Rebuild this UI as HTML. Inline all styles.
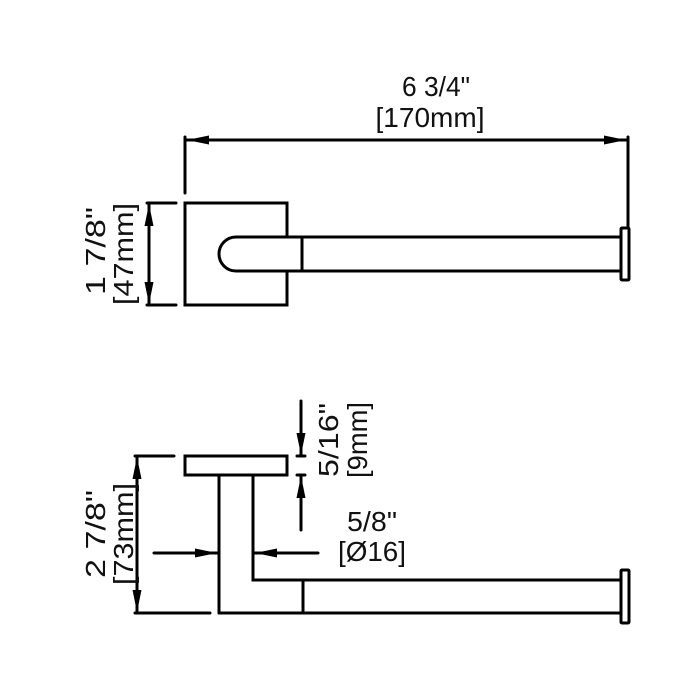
<!DOCTYPE html>
<html><head><style>body{margin:0;background:#fff}svg{display:block}</style></head><body>
<svg width="700" height="700" viewBox="0 0 700 700" xmlns="http://www.w3.org/2000/svg" font-family="Liberation Sans, Arial, sans-serif" font-size="28" fill="#111">
<g stroke="#000" stroke-width="3" fill="none" stroke-linecap="round">
<!-- top view -->
<line x1="185" y1="137" x2="185" y2="193"/>
<line x1="628" y1="137" x2="628" y2="228"/>
<line x1="187" y1="140" x2="626" y2="140"/>
<line x1="147" y1="203" x2="176" y2="203"/>
<line x1="147" y1="305" x2="176" y2="305"/>
<line x1="149" y1="205" x2="149" y2="303"/>
<path d="M287,237 V203 H185 V305 H287 V271"/>
<path d="M621,237 H236 A17,17 0 0 0 236,271 H621"/>
<line x1="302" y1="237" x2="302" y2="271"/>
<rect x="621" y="228" width="8" height="52" rx="1"/>
<!-- bottom view -->
<rect x="185" y="456" width="102" height="19"/>
<line x1="219" y1="475" x2="219" y2="613"/>
<path d="M253,475 V580 H621"/>
<line x1="219" y1="613" x2="621" y2="613"/>
<line x1="303" y1="580" x2="303" y2="613"/>
<rect x="621" y="570" width="8" height="53" rx="1"/>
<line x1="135" y1="456" x2="174" y2="456"/>
<line x1="135" y1="613" x2="210" y2="613"/>
<line x1="137" y1="458" x2="137" y2="611"/>
<line x1="301" y1="401" x2="301" y2="455"/>
<line x1="301" y1="530" x2="301" y2="476"/>
<line x1="297" y1="456" x2="305" y2="456"/>
<line x1="297" y1="475" x2="305" y2="475"/>
<line x1="154" y1="553" x2="217" y2="553"/>
<line x1="318" y1="553" x2="255" y2="553"/>
</g>
<g fill="#000" stroke="none">
<polygon points="187,140 209,135.5 209,144.5"/>
<polygon points="626,140 604,135.5 604,144.5"/>
<polygon points="149,204 144.5,226 153.5,226"/>
<polygon points="149,304 144.5,282 153.5,282"/>
<polygon points="137,457 132.5,479 141.5,479"/>
<polygon points="137,612 132.5,590 141.5,590"/>
<polygon points="301,455 296.5,433 305.5,433"/>
<polygon points="301,476 296.5,498 305.5,498"/>
<polygon points="217,553 195,548.5 195,557.5"/>
<polygon points="255,553 277,548.5 277,557.5"/>
</g>
<g stroke="none" fill="#111">
<text x="436" y="96" text-anchor="middle" textLength="68" lengthAdjust="spacingAndGlyphs">6 3/4"</text>
<text x="430" y="127" text-anchor="middle" textLength="109" lengthAdjust="spacingAndGlyphs">[170mm]</text>
<text transform="translate(105,251) rotate(-90)" text-anchor="middle" textLength="88" lengthAdjust="spacingAndGlyphs">1 7/8"</text>
<text transform="translate(133,254) rotate(-90)" text-anchor="middle" textLength="102" lengthAdjust="spacingAndGlyphs">[47mm]</text>
<text transform="translate(105,534) rotate(-90)" text-anchor="middle" textLength="88" lengthAdjust="spacingAndGlyphs">2 7/8"</text>
<text transform="translate(133,534) rotate(-90)" text-anchor="middle" textLength="102" lengthAdjust="spacingAndGlyphs">[73mm]</text>
<text transform="translate(338,440) rotate(-90)" text-anchor="middle" textLength="74" lengthAdjust="spacingAndGlyphs">5/16"</text>
<text transform="translate(367,440) rotate(-90)" text-anchor="middle" textLength="76" lengthAdjust="spacingAndGlyphs">[9mm]</text>
<text x="372" y="531" text-anchor="middle" textLength="50" lengthAdjust="spacingAndGlyphs">5/8"</text>
<text x="372" y="561" text-anchor="middle" textLength="68" lengthAdjust="spacingAndGlyphs">[Ø16]</text>
</g>
</svg>
</body></html>
